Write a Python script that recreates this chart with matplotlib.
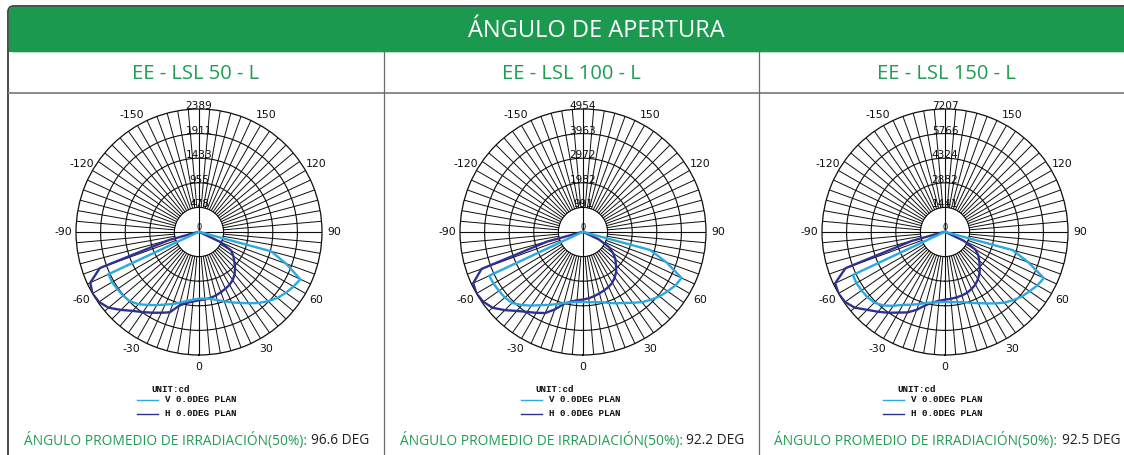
import numpy as np
import matplotlib.pyplot as plt
from matplotlib.patches import FancyBboxPatch, Rectangle

W, H = 1124, 455

# --- data ---
angles = [-90, -85, -80, -75, -70, -65, -60, -55, -50, -45, -40, -35, -30, -25, -20, -15,
          -10, -5, 0, 5, 10, 15, 20, 25, 30, 35, 40, 45, 50, 55, 60, 65, 70, 75, 80, 85, 90]

models = ["EE - LSL 50 - L", "EE - LSL 100 - L", "EE - LSL 150 - L"]
beam_angles = ["96.6 DEG", "92.2 DEG", "92.5 DEG"]

rings_50 = [478, 955, 1433, 1911, 2389]
rings_100 = [991, 1982, 2972, 3963, 4954]
rings_150 = [1441, 2882, 4324, 5766, 7207]

v_plane_50 = [20, 20, 25, 40, 60, 1940, 1950, 1935, 1925, 1900, 1830, 1730, 1640, 1555, 1490, 1420,
              1360, 1320, 1295, 1300, 1320, 1370, 1430, 1510, 1590, 1690, 1800, 1900, 1990, 2060,
              2120, 2170, 1800, 1450, 40, 20, 20]
h_plane_50 = [20, 20, 60, 600, 2050, 2330, 2389, 2370, 2290, 2140, 2000, 1900, 1810, 1730, 1660, 1480,
              1400, 1355, 1327, 1315, 1300, 1275, 1245, 1215, 1185, 1140, 1075, 990, 895, 815,
              720, 450, 30, 20, 20, 20, 20]

v_plane_100 = [40, 40, 50, 80, 120, 4170, 4160, 4130, 4110, 4040, 3840, 3620, 3400, 3240, 3090, 2960,
               2880, 2830, 2820, 2840, 2870, 2930, 3040, 3170, 3300, 3480, 3690, 3860, 4030, 4160,
               4300, 4380, 3580, 2800, 60, 40, 40]
h_plane_100 = [40, 40, 120, 1500, 4350, 4880, 4954, 4900, 4750, 4450, 4150, 3930, 3760, 3600, 3320, 3000,
               2850, 2760, 2720, 2680, 2620, 2560, 2500, 2440, 2360, 2230, 2080, 1880, 1700, 1480,
               1200, 700, 60, 40, 40, 40, 40]

v_plane_150 = [60, 60, 70, 100, 180, 5960, 5990, 5970, 5940, 5850, 5620, 5280, 4930, 4700, 4500, 4300,
               4200, 4130, 4100, 4130, 4170, 4260, 4420, 4600, 4830, 5110, 5400, 5650, 5880, 6050,
               6250, 6390, 5200, 4100, 90, 60, 60]
h_plane_150 = [60, 60, 180, 2000, 6200, 7100, 7207, 7150, 6900, 6450, 6100, 5780, 5450, 5200, 4850, 4450,
               4200, 4050, 3964, 3930, 3890, 3850, 3790, 3680, 3560, 3370, 3150, 2880, 2620, 2380,
               2050, 1200, 90, 60, 60, 60, 60]

angle_labels = [0, 30, 60, 90, 120, 150, -30, -60, -90, -120, -150]

charts = [
    (rings_50, v_plane_50, h_plane_50),
    (rings_100, v_plane_100, h_plane_100),
    (rings_150, v_plane_150, h_plane_150),
]

# --- layout (pixels) ---
chart_cx = [199, 583, 945]
chart_cy = 232
radius = 123
col_edges = [8, 384, 759, 1134]

green = '#1B9A4F'
text_green = '#1f9d52'
light_blue = '#2AAAE0'
dark_blue = '#2E3192'
ink = '#0d0d0d'

fig = plt.figure(figsize=(W / 100, H / 100), dpi=100)
bg = fig.add_axes([0, 0, 1, 1])
bg.set_xlim(0, W)
bg.set_ylim(H, 0)
bg.axis('off')

# outer frame and header
bg.add_patch(FancyBboxPatch((8, 6), 1200, 500, boxstyle='round,pad=0,rounding_size=6',
                            facecolor='white', edgecolor='#3c3c3c', lw=1.3))
bg.add_patch(FancyBboxPatch((8.8, 6.8), 1200, 45.5, boxstyle='round,pad=0,rounding_size=5',
                            facecolor=green, edgecolor='none'))
bg.add_patch(Rectangle((8.8, 30), 1200, 22.3, facecolor=green, edgecolor='none'))
bg.text(596, 31, "ÁNGULO DE APERTURA", color='white', fontsize=17, family='Open Sans',
        ha='center', va='center')

bg.plot([8.8, W], [93, 93], color='#8a8a8a', lw=1.4)
for x in col_edges[1:3]:
    bg.plot([x, x], [52, H], color='#6a6a6a', lw=0.9)

for i, (rings, v_vals, h_vals) in enumerate(charts):
    col_c = (col_edges[i] + col_edges[i + 1]) / 2
    bg.text(col_c, 74, models[i], color=text_green, fontsize=14.5, family='Open Sans',
            ha='center', va='center')

    # bottom line: green label + black value
    split = col_c + 111
    bg.text(split, 441, "ÁNGULO PROMEDIO DE IRRADIACIÓN(50%):",
            color=text_green, fontsize=9.9, family='Open Sans', ha='right', va='center')
    bg.text(split + 4, 441, beam_angles[i],
            color='#231f20', fontsize=9.9, family='Open Sans', ha='left', va='center')

    # legend
    cx = chart_cx[i]
    bg.text(cx - 47.5, 389, "UNIT:cd", fontsize=6.6, family='Liberation Mono', weight='bold',
            ha='left', va='center', color=ink)
    bg.plot([cx - 62, cx - 41], [400, 400], color=light_blue, lw=1.0)
    bg.plot([cx - 62, cx - 41], [414, 414], color=dark_blue, lw=1.0)
    bg.text(cx - 34, 400, "V 0.0DEG PLAN", fontsize=6.6, family='Liberation Mono', weight='bold',
            ha='left', va='center', color=ink)
    bg.text(cx - 34, 414, "H 0.0DEG PLAN", fontsize=6.6, family='Liberation Mono', weight='bold',
            ha='left', va='center', color=ink)

    # polar diagram
    rect = [(cx - radius) / W, 1 - (chart_cy + radius) / H, 2 * radius / W, 2 * radius / H]
    ax = fig.add_axes(rect, projection='polar')
    ax.set_facecolor('none')
    ax.set_theta_zero_location('S')
    rmax = rings[-1]
    ax.set_ylim(0, rmax)
    ax.set_xticks([])
    ax.set_yticks([])
    ax.grid(False)
    ax.spines['polar'].set_linewidth(0.9)
    ax.spines['polar'].set_color(ink)

    full = np.linspace(0, 2 * np.pi, 361)
    for r in rings[:-1]:
        ax.plot(full, np.full_like(full, r), color=ink, lw=0.8, zorder=1)
    for a in range(0, 360, 5):
        t = np.deg2rad(a)
        ax.plot([t, t], [rings[0], rmax], color=ink, lw=0.7, zorder=1)
    for a in [0, 90, 180, 270]:
        t = np.deg2rad(a)
        ax.plot([t, t], [0, rmax], color=ink, lw=0.8, zorder=1)

    for a in angle_labels:
        ax.text(np.deg2rad(a), rmax * 1.1, str(a), fontsize=7.8, ha='center', va='center',
                color=ink, clip_on=False)
    for r in rings:
        ax.text(np.pi, r, str(r), fontsize=7.6, ha='center', va='baseline', color=ink)
    ax.text(0, 0, "0", fontsize=6, ha='center', va='bottom', color=ink)

    th = np.deg2rad(angles)
    ax.plot(th, h_vals, color=dark_blue, lw=1.7, zorder=3)
    ax.plot(th, v_vals, color=light_blue, lw=1.7, zorder=4)

fig.savefig('out.png', dpi=100)
